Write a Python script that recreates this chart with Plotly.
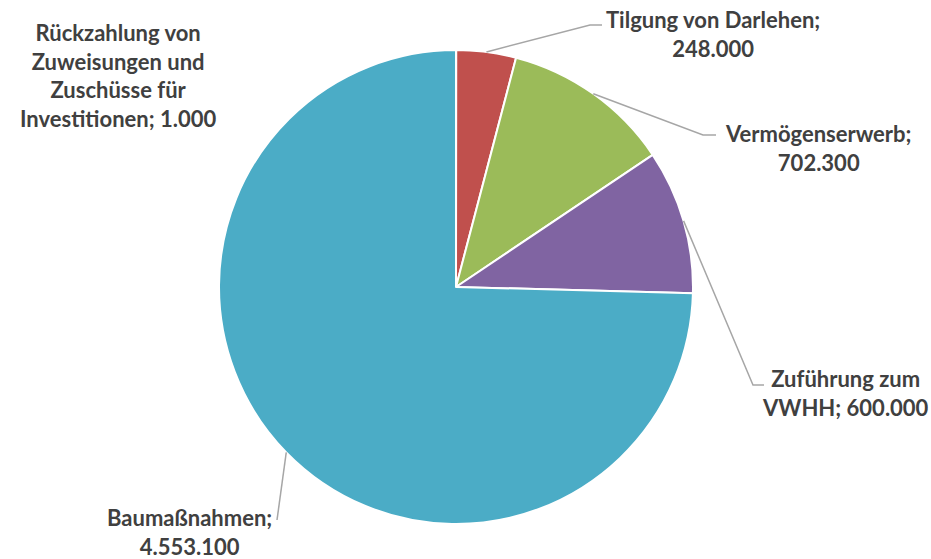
import math
import plotly.graph_objects as go

labels = ["Rückzahlung von<br>Zuweisungen und<br>Zuschüsse für<br>Investitionen; 1.000",
          "Tilgung von Darlehen;<br>248.000",
          "Vermögenserwerb;<br>702.300",
          "Zuführung zum<br>VWHH; 600.000",
          "Baumaßnahmen;<br>4.553.100"]
names = ["Rückzahlung von Zuweisungen und Zuschüsse für Investitionen",
         "Tilgung von Darlehen", "Vermögenserwerb", "Zuführung zum VWHH", "Baumaßnahmen"]
values = [1000, 248000, 702300, 600000, 4553100]
colors = ["#4F81BD", "#C0504D", "#9BBB59", "#8064A2", "#4BACC6"]

W, H = 931, 559
CX, CY, R = 456, 287, 237

# label anchors (pixels) and leader elbows (pixels)
label_pos = [(118, 75), (713, 34), (818, 148), (845, 393), (189, 532)]
elbows = [None, [(590, 25), (602, 25)], [(703, 135), (716, 135)],
          [(753, 385), (764, 385)], [(277, 520), (277, 520)]]

def px(x, y):
    return x / W, 1 - y / H

fig = go.Figure(go.Pie(
    labels=names, values=values, sort=False, direction="clockwise", rotation=0,
    marker=dict(colors=colors, line=dict(color="white", width=2)),
    textinfo="none", hoverinfo="label+value", showlegend=False,
    domain=dict(x=[(CX - R) / W, (CX + R) / W], y=[1 - (CY + R) / H, 1 - (CY - R) / H]),
))

total = sum(values)
cum = 0
shapes = []
annotations = []
for i, v in enumerate(values):
    mid = (cum + v / 2) / total * 2 * math.pi
    cum += v
    sx = CX + R * math.sin(mid)
    sy = CY - R * math.cos(mid)
    if elbows[i]:
        pts = [(sx, sy)] + elbows[i]
        path = "M " + " L ".join(f"{px(a, b)[0]},{px(a, b)[1]}" for a, b in pts)
        shapes.append(dict(type="path", xref="paper", yref="paper", path=path,
                           line=dict(color="#A6A6A6", width=1.5)))
    lx, ly = px(*label_pos[i])
    annotations.append(dict(x=lx, y=ly, xref="paper", yref="paper", text=labels[i],
                            showarrow=False, xanchor="center", yanchor="middle", align="center",
                            font=dict(family="Lato", size=22, color="#404040", weight="bold")))

fig.update_layout(width=W, height=H, margin=dict(l=0, r=0, t=0, b=0),
                  paper_bgcolor="white", plot_bgcolor="white",
                  shapes=shapes, annotations=annotations)
fig.write_html("out.html", config={"displayModeBar": False},
               post_script="document.body.style.margin='0';")
